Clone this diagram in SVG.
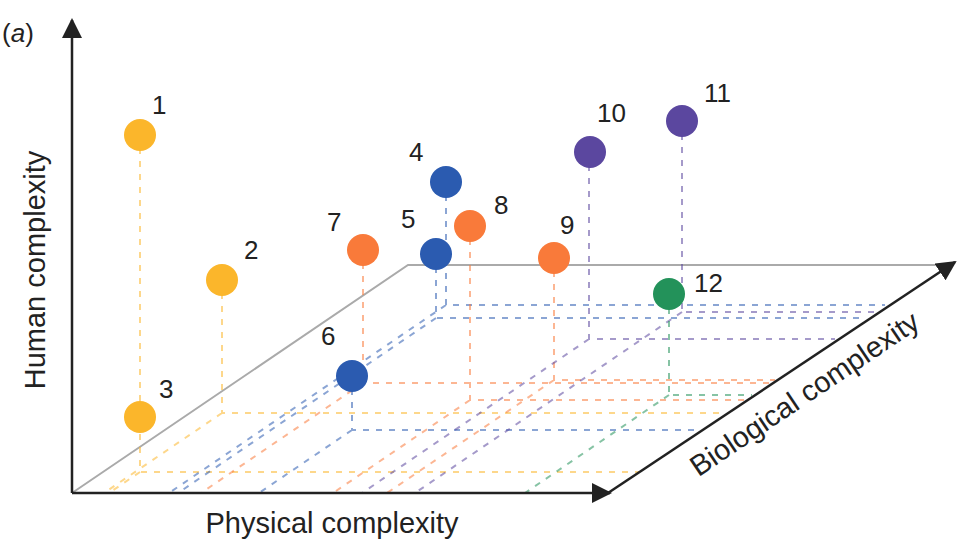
<svg xmlns="http://www.w3.org/2000/svg" width="971" height="548" viewBox="0 0 971 548">
<style>
text{font-family:"Liberation Sans",Arial,sans-serif;fill:#222;font-size:26px}
.lb{font-size:29px}
.d{fill:none;stroke-width:2;stroke-dasharray:6 7;opacity:.55}
.y{stroke:#FBB62B}.o{stroke:#F97A3A}.b{stroke:#2B5BB0}.p{stroke:#5B479F}.g{stroke:#23925A}
.ax{stroke:#222;stroke-width:2.5;fill:none}
</style>
<defs><marker id="ar2" viewBox="0 0 10 10" refX="9" refY="5" markerWidth="8" markerHeight="8" orient="auto"><path d="M0,0L10,5L0,10z" fill="#222"/></marker></defs>
<g id="plane"><polyline points="72,493 408,265 945,265" fill="none" stroke="#aaa" stroke-width="2"/></g>
<g id="connectors">
<path class="d y" d="M140,135V472H639M140,472L109,493M222,280V413H726M222,413L104,493"/>
<path class="d b" d="M352,376V430H701M352,430L259,493M436,254V318H866M436,318L178,493M446,182V305H885M446,305L169,493"/>
<path class="d o" d="M363,250V383H770M363,383L201,493M470,226V400H745M470,400L333,493M554,258V380H775M554,380L387,493"/>
<path class="d p" d="M589,152V339H835M589,339L362,493M682,121V312H875M682,312L415,493"/>
<path class="d g" d="M669,295V395H752M669,395L525,493"/>
</g>
<g id="axes">
<line class="ax" x1="72" y1="493" x2="72" y2="20" marker-end="url(#ar2)"/>
<line class="ax" x1="72" y1="493" x2="610" y2="493" marker-end="url(#ar2)"/>
<line class="ax" x1="608" y1="493" x2="955" y2="262" marker-end="url(#ar2)"/>
</g>
<g id="n1"><circle cx="140" cy="135" r="16" fill="#FBB62B"/><text x="152" y="114">1</text></g>
<g id="n2"><circle cx="222" cy="280" r="16" fill="#FBB62B"/><text x="244" y="259">2</text></g>
<g id="n3"><circle cx="140" cy="417" r="16" fill="#FBB62B"/><text x="159" y="398">3</text></g>
<g id="n4"><circle cx="446" cy="182" r="16" fill="#2B5BB0"/><text x="409" y="161">4</text></g>
<g id="n5"><circle cx="436" cy="254" r="16" fill="#2B5BB0"/><text x="401" y="228">5</text></g>
<g id="n6"><circle cx="352" cy="376" r="16" fill="#2B5BB0"/><text x="321" y="345">6</text></g>
<g id="n7"><circle cx="363" cy="250" r="16" fill="#F97A3A"/><text x="327" y="231">7</text></g>
<g id="n8"><circle cx="470" cy="226" r="16" fill="#F97A3A"/><text x="494" y="214">8</text></g>
<g id="n9"><circle cx="554" cy="258" r="16" fill="#F97A3A"/><text x="560" y="234">9</text></g>
<g id="n10"><circle cx="590" cy="152" r="16" fill="#5B479F"/><text x="597" y="122">10</text></g>
<g id="n11"><circle cx="682" cy="121" r="16" fill="#5B479F"/><text x="704" y="102">11</text></g>
<g id="n12"><circle cx="669" cy="294" r="16" fill="#23925A"/><text x="694" y="292">12</text></g>
<text x="2" y="42">(<tspan font-style="italic">a</tspan>)</text>
<text class="lb" transform="translate(45,270) rotate(-90)" text-anchor="middle">Human complexity</text>
<text class="lb" x="332" y="533" text-anchor="middle">Physical complexity</text>
<text class="lb" transform="translate(810,402) rotate(-34)" text-anchor="middle">Biological complexity</text>
</svg>
